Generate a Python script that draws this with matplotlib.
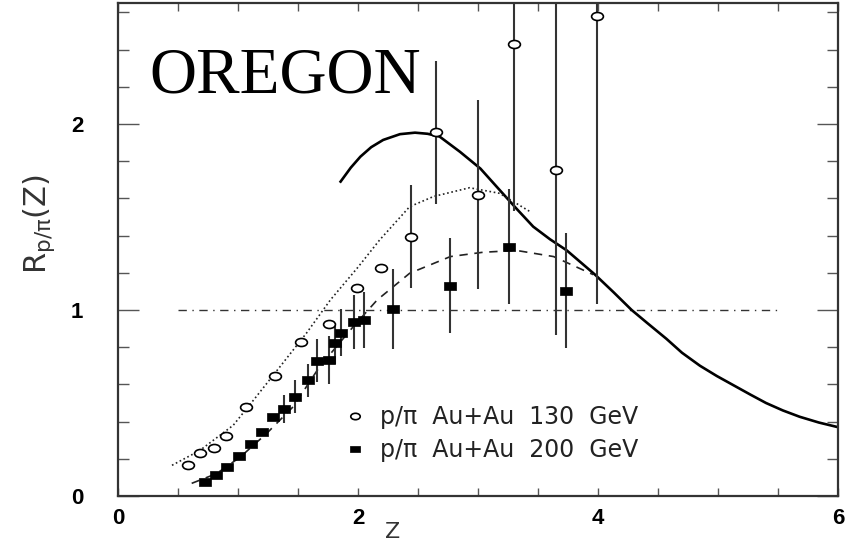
import numpy as np
import matplotlib
matplotlib.use("Agg")
import matplotlib.pyplot as plt
from matplotlib.path import Path

# p/pi Au+Au 130 GeV (open circles)
z130 = [0.58, 0.68, 0.80, 0.90, 1.07, 1.31, 1.525, 1.76, 1.99, 2.19, 2.44, 2.65, 3.00, 3.30, 3.65, 3.99]
r130 = [0.167, 0.23, 0.26, 0.32, 0.48, 0.645, 0.83, 0.925, 1.12, 1.227, 1.39, 1.955, 1.62, 2.43, 1.755, 2.58]
lo130 = [0, 0, 0, 0, 0, 0, 0, 0, 0, 0, 0.273, 0.385, 0.51, 0.90, 0.89, 1.55]
hi130 = [0, 0, 0, 0, 0, 0, 0, 0, 0, 0, 0.28, 0.385, 0.51, 0.90, 0.89, 1.55]

# p/pi Au+Au 200 GeV (filled squares)
z200 = [0.725, 0.817, 0.908, 1.01, 1.11, 1.20, 1.29, 1.38, 1.475, 1.58, 1.66, 1.76, 1.81, 1.855,
        1.965, 2.05, 2.29, 2.77, 3.26, 3.73]
r200 = [0.074, 0.115, 0.158, 0.215, 0.28, 0.346, 0.425, 0.47, 0.534, 0.622, 0.727, 0.73, 0.82, 0.878,
        0.937, 0.946, 1.005, 1.13, 1.34, 1.104]
err200 = [0, 0, 0, 0, 0, 0, 0, 0.075, 0.09, 0.09, 0.115, 0.13, 0.11, 0.125,
          0.145, 0.15, 0.215, 0.255, 0.31, 0.31]

# model curves
z_solid = [1.855, 1.94, 2.02, 2.11, 2.21, 2.35, 2.475, 2.58, 2.68, 2.85, 3.02, 3.18, 3.32, 3.46, 3.60,
           3.74, 3.975, 4.13, 4.28, 4.41, 4.57, 4.70, 4.85, 4.99, 5.13, 5.27, 5.40, 5.54, 5.68, 5.84, 6.0]
r_solid = [1.69, 1.765, 1.824, 1.875, 1.914, 1.945, 1.953, 1.947, 1.932, 1.85, 1.76, 1.645, 1.545, 1.448, 1.38,
           1.32, 1.19, 1.095, 1.0, 0.93, 0.845, 0.77, 0.70, 0.645, 0.595, 0.545, 0.50, 0.46, 0.426, 0.395, 0.37]
z_dot = [0.45, 0.68, 0.96, 1.13, 1.35, 1.57, 1.77, 2.0, 2.18, 2.43, 2.63, 2.93, 3.18, 3.43]
r_dot = [0.165, 0.244, 0.38, 0.516, 0.695, 0.875, 1.054, 1.23, 1.376, 1.555, 1.61, 1.657, 1.627, 1.53]
z_dash = [0.614, 0.82, 1.02, 1.24, 1.46, 1.68, 1.96, 2.16, 2.43, 2.77, 3.04, 3.32, 3.63, 3.96]
r_dash = [0.068, 0.12, 0.21, 0.337, 0.48, 0.695, 0.91, 1.054, 1.197, 1.287, 1.31, 1.32, 1.287, 1.19]
z_one = [0.5, 5.5]
r_one = [1.0, 1.0]

# squashed markers, like the stretched original
circ = Path.unit_circle()
ellipse = Path(circ.vertices * [1.0, 0.68], circ.codes)
rect = Path([(-1, -0.72), (1, -0.72), (1, 0.72), (-1, 0.72), (-1, -0.72)],
            [Path.MOVETO, Path.LINETO, Path.LINETO, Path.LINETO, Path.CLOSEPOLY])

fig = plt.figure(figsize=(8.52, 5.47), dpi=100)
ax = fig.add_axes([118 / 852, 1 - 496 / 547, 720 / 852, 493 / 547])

ax.plot(z_solid, r_solid, color="black", lw=1.9, zorder=2)
ax.plot(z_dot, r_dot, color="#222222", lw=1.2, linestyle=(0, (1, 1.6)), zorder=2)
ax.plot(z_dash, r_dash, color="#222222", lw=1.2, linestyle=(0, (5, 4)), zorder=2)
ax.plot(z_one, r_one, color="#333333", lw=1.0, linestyle=(0, (6, 4, 1, 4)), zorder=1)

ax.errorbar(z130, r130, yerr=[lo130, hi130], fmt="none", ecolor="#333333", elinewidth=1.5, zorder=3)
ax.errorbar(z200, r200, yerr=err200, fmt="none", ecolor="#333333", elinewidth=1.5, zorder=3)
h1, = ax.plot(z130, r130, linestyle="none", marker=ellipse, ms=8.5, mfc="white", mec="black",
              mew=1.2, zorder=4, label="p/π  Au+Au  130  GeV")
h2, = ax.plot(z200, r200, linestyle="none", marker=rect, ms=8.5, mfc="black", mec="black",
              mew=0.5, zorder=4, label="p/π  Au+Au  200  GeV")

leg = ax.legend(handles=[h1, h2], loc="upper left", bbox_to_anchor=(0.3167, 0.185),
                frameon=False, fontsize=17, handlelength=0.75, handletextpad=0.7,
                labelspacing=0.38, borderpad=0, borderaxespad=0, markerscale=0.8)
for t in leg.get_texts():
    t.set_color("#222222")

ax.text(0.265, 2.17, "OREGON", family="Liberation Serif", fontsize=47, va="baseline", ha="left")

ax.set_xlim(0, 6)
ax.set_ylim(0, 2.65)
ax.set_xticks([0, 2, 4, 6])
ax.set_xticks(np.arange(0, 6.01, 0.5), minor=True)
ax.set_yticks([0, 1, 2])
ax.set_yticks(np.arange(0, 2.65, 0.2), minor=True)
ax.tick_params(which="both", direction="in", top=True, right=True, color="#555555", width=1.0)
ax.tick_params(axis="x", which="both", length=6, pad=9)
ax.tick_params(axis="y", which="major", length=15, pad=25)
ax.tick_params(axis="y", which="minor", length=8)
for lab in ax.get_xticklabels() + ax.get_yticklabels():
    lab.set_family("Liberation Sans")
    lab.set_fontweight("bold")
    lab.set_fontsize(16)
for s in ax.spines.values():
    s.set_color("#333333")
    s.set_linewidth(1.6)

ax.set_xlabel("Z", fontsize=16, color="#333333")
ax.xaxis.set_label_coords(0.382, -0.052)
ax.set_ylabel(r"$\mathregular{R_{p/\pi}(Z)}$", fontsize=22, color="#333333")
ax.yaxis.set_label_coords(-0.085, 0.552)

fig.savefig("out.png", dpi=100)
